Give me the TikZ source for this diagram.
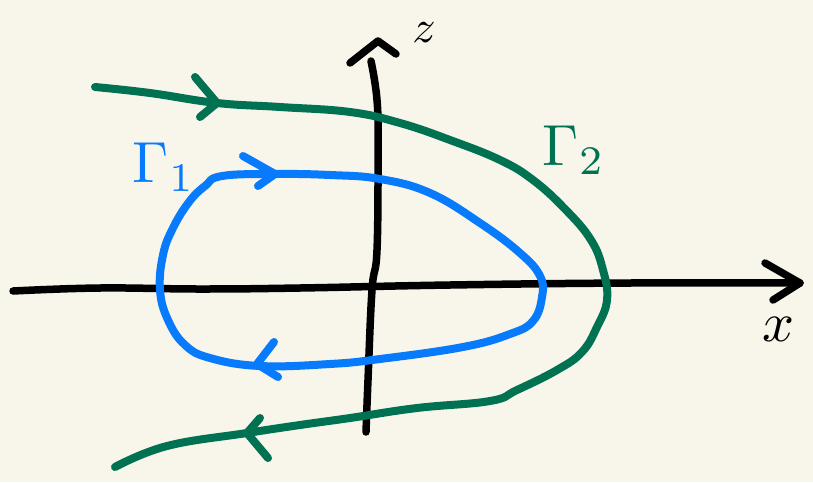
\documentclass[tikz,border=0pt]{standalone}
\usepackage{graphicx}
\usepackage{tikz}
\definecolor{sfondo}{RGB}{248,246,235}
\definecolor{blu}{RGB}{8,122,252}
\definecolor{verde}{RGB}{0,114,82}
\tikzset{
  tratto/.style={line width=7.5pt, line cap=round, line join=round},
  etich/.style={inner sep=0pt}
}
\begin{document}
\begin{tikzpicture}[x=1pt, y=-1pt]
\fill[sfondo] (0,0) rectangle (813,482);
\useasboundingbox (0,0) rectangle (813,482);
% Assi
\coordinate (xa) at (13,291);
\coordinate (xb) at (800,283);
\coordinate (za) at (366,432);
\coordinate (zb) at (371,61);
\draw[tratto] plot[smooth, tension=0.7] coordinates {(xa) (100,288) (200,289) (300,288) (450,285) (630,283) (xb)};
\draw[tratto] (765,263) -- (xb) -- (773,300);
\draw[tratto] plot[smooth, tension=0.7] coordinates {(za) (368,380) (372,290) (377,250) (378,150) (377,100) (zb)};
\draw[tratto] (350,63) -- (378,41) -- (396,54);
\node[etich] (z) at (424,33) {\scalebox{4.6}{$z$}};
\node[etich] (x) at (778,329) {\scalebox{5.6}{$x$}};
% curva Gamma_1
\draw[tratto, blu, line width=8pt] plot[smooth cycle, tension=0.7] coordinates {
  (222,176) (275,174) (330,175) (380,179) (430,193) (480,223) (520,253)
  (540,276) (542,297) (533,321) (510,334) (463,347) (380,359)
  (330,364) (260,366) (210,358) (185,345) (168,320) (160,290) (163,255)
  (173,228) (189,202) (205,186)};
\draw[tratto, blu, line width=8pt] (243,156) -- (275,174) -- (258,186);
\draw[tratto, blu, line width=8pt] (274,342) -- (257,364) -- (278,377);
\node[etich, blu] (g1) at (164,167) {\scalebox{5.8}{$\Gamma_1$}};
% curva Gamma_2
\draw[tratto, verde, line width=8pt] plot[smooth, tension=0.7] coordinates {
  (95,87) (150,93) (217,103) (280,107) (350,112) (400,123) (450,140)
  (500,160) (533,180) (565,209) (591,240) (603,270) (607,300) (597,327)
  (582,352) (557,370) (517,390) (490,401) (417,408) (350,418) (300,425)
  (247,433) (167,446) (115,467)};
\draw[tratto, verde, line width=8pt] (195,77) -- (217,103) -- (200,117);
\draw[tratto, verde, line width=8pt] (260,418) -- (247,433) -- (268,458);
\node[etich, verde] (g2) at (574,150) {\scalebox{5.8}{$\Gamma_2$}};
\end{tikzpicture}
\end{document}
